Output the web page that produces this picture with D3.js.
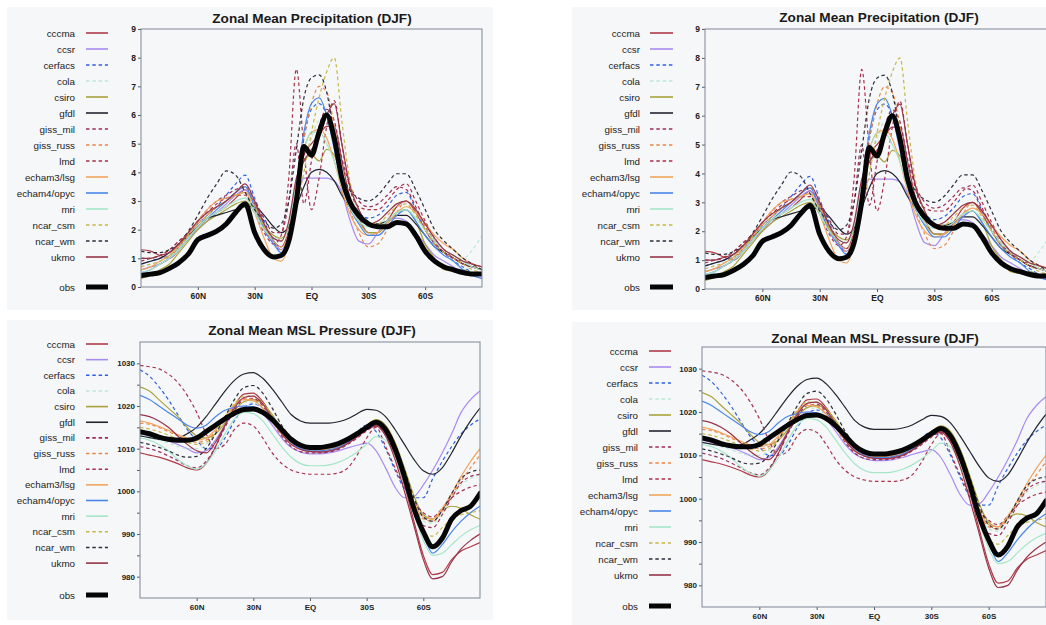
<!DOCTYPE html>
<html>
<head>
<meta charset="utf-8">
<script src="https://cdn.jsdelivr.net/npm/d3@7"></script>
<style>
  body { margin: 0; background: #ffffff; }
  svg { display: block; }
  text { font-family: "Liberation Sans", Arial, Helvetica, sans-serif; }
</style>
</head>
<body>
<svg id="chart" width="1046" height="625"></svg>
<script>
// ---- Series definitions ----
const modelNames  = ["cccma","ccsr","cerfacs","cola","csiro","gfdl","giss_mil","giss_russ","lmd",
                     "echam3/lsg","echam4/opyc","mri","ncar_csm","ncar_wm","ukmo"];
const modelColors = ["#b03a48","#a98bf0","#2f62e0","#bde8d6","#a9a23c","#22252f","#9a2f5a","#e8884a","#a8324c",
                     "#f2a45c","#4a86ea","#a5e6c8","#c9b64a","#2d2f3a","#983448"];
const modelDashed = [false,false,true,true,false,false,true,true,true,false,false,false,true,true,false];

// ---- Latitude grids (degrees, north positive) ----
const precipLat = [90,85,80,75,70,65,60,55,50,45,40,35,30,25,20,16,12,8,4,0,
                   -4,-8,-12,-16,-20,-25,-30,-35,-40,-45,-50,-55,-60,-65,-70,-75,-80,-85,-90];
const pressureLat = [90,85,80,75,70,65,60,55,50,45,40,35,30,25,20,15,10,5,0,
                     -5,-10,-15,-20,-25,-30,-35,-40,-45,-50,-55,-60,-65,-70,-75,-80,-85,-90];

// ---- Zonal mean precipitation, DJF (mm/day) ----
const prCccma   = [1.3,1.25,1.1,1.0,1.3,1.7,2.1,2.4,2.6,2.8,3.1,3.4,2.9,2.2,1.6,1.4,2.0,3.4,4.6,5.0,5.3,5.6,5.6,4.4,3.2,2.4,1.9,1.9,2.3,2.8,3.0,2.6,2.0,1.5,1.2,1.0,0.8,0.7,0.6];
const prCcsr    = [0.6,0.7,0.8,1.0,1.3,1.7,2.0,2.3,2.6,2.9,3.2,3.4,2.8,2.1,1.6,1.3,1.8,3.0,3.8,3.8,3.8,3.8,3.7,3.3,2.4,1.6,1.5,1.9,2.3,2.4,2.3,1.9,1.5,1.1,0.9,0.7,0.5,0.4,0.3];
const prCerfacs = [0.8,0.9,1.0,1.1,1.4,1.8,2.2,2.5,2.8,3.2,3.6,3.9,3.1,2.3,1.6,1.2,1.7,3.5,5.2,6.2,6.4,6.0,5.0,3.8,3.1,2.6,2.4,2.5,2.8,3.2,3.3,2.7,2.0,1.5,1.2,0.9,0.7,0.5,0.4];
const prCola    = [0.7,0.8,0.9,1.1,1.4,1.8,2.1,2.4,2.6,2.8,3.0,3.1,2.7,2.2,1.8,1.6,2.0,3.2,4.4,5.2,5.8,5.8,5.0,3.9,3.1,2.5,2.2,2.2,2.4,2.6,2.7,2.4,2.0,1.6,1.3,1.1,1.0,1.3,1.8];
const prCsiro   = [0.3,0.4,0.6,0.8,1.2,1.6,2.0,2.3,2.5,2.7,2.9,3.0,2.6,2.1,1.8,1.7,2.1,3.3,4.4,4.6,4.4,4.8,4.6,3.8,3.0,2.3,1.9,1.9,2.2,2.6,2.7,2.3,1.5,1.0,0.6,0.55,0.6,0.5,0.5];
const prGfdl    = [0.8,0.9,1.0,1.2,1.5,1.8,2.1,2.4,2.5,2.6,2.7,2.8,2.8,2.5,2.1,1.9,2.1,2.8,3.5,4.0,4.1,4.0,3.7,3.2,2.8,2.4,2.2,2.2,2.3,2.5,2.5,2.2,1.8,1.4,1.2,1.0,0.8,0.7,0.6];
const prGissMil = [1.0,1.0,1.1,1.3,1.6,1.9,2.3,2.7,3.0,3.2,3.4,3.5,3.0,2.4,1.9,1.9,3.0,5.0,2.9,4.4,5.6,6.2,5.8,4.5,3.6,3.0,2.8,2.9,3.2,3.5,3.4,2.8,2.1,1.6,1.2,1.0,0.8,0.7,0.6];
const prGissRus = [0.6,0.7,0.8,1.0,1.4,1.8,2.2,2.5,2.8,3.0,3.3,3.5,2.9,2.1,1.5,1.3,1.9,3.6,5.2,6.4,7.0,6.8,5.6,4.0,2.8,1.9,1.4,1.5,2.0,2.6,3.0,2.7,2.1,1.6,1.3,1.1,0.9,0.7,0.6];
const prLmd     = [0.9,1.0,1.1,1.3,1.6,1.9,2.3,2.6,2.9,3.1,3.2,3.2,2.6,1.9,1.5,1.8,3.8,7.6,4.8,2.7,3.8,5.6,6.5,5.0,3.5,2.8,2.7,2.7,3.0,3.4,3.6,3.0,2.3,1.7,1.3,1.0,0.9,0.8,0.7];
const prEcham3  = [0.6,0.7,0.9,1.1,1.5,1.9,2.3,2.7,3.0,3.1,3.2,3.3,2.6,1.7,1.0,0.9,1.6,3.4,4.8,5.4,5.5,5.2,4.4,3.4,2.6,2.0,1.8,1.9,2.2,2.6,2.8,2.6,2.2,1.8,1.5,1.3,1.0,0.8,0.7];
const prEcham4  = [0.5,0.6,0.8,1.0,1.3,1.7,2.1,2.4,2.7,3.0,3.3,3.5,2.8,2.0,1.5,1.2,1.8,3.6,5.4,6.4,6.6,6.0,4.8,3.6,2.8,2.2,1.8,1.8,2.1,2.5,2.7,2.3,1.8,1.4,1.1,0.9,0.6,0.4,0.3];
const prMri     = [0.5,0.6,0.8,1.0,1.3,1.7,2.1,2.4,2.6,2.8,3.0,3.1,2.6,2.0,1.7,1.6,2.2,3.6,4.8,5.4,5.4,5.0,4.4,3.5,2.8,2.3,2.1,2.1,2.3,2.6,2.7,2.4,2.0,1.6,1.3,1.1,0.9,0.7,0.6];
const prNcarCsm = [0.7,0.8,0.9,1.1,1.4,1.8,2.2,2.5,2.8,3.0,3.2,3.3,2.8,2.1,1.6,1.4,1.8,2.8,4.0,5.4,6.6,7.5,8.0,5.8,3.8,2.6,2.2,2.2,2.5,2.8,2.9,2.5,2.0,1.5,1.2,1.0,0.8,0.6,0.5];
const prNcarWm  = [1.25,1.2,1.2,1.3,1.5,1.95,2.5,3.1,3.6,4.05,3.9,3.3,2.7,2.3,2.05,2.2,3.0,4.8,6.6,7.3,7.4,6.8,5.3,4.0,3.4,3.1,3.0,3.2,3.6,3.95,3.95,3.4,2.7,2.0,1.6,1.3,1.0,0.8,0.6];
const prUkmo    = [1.0,1.0,1.1,1.2,1.5,1.9,2.3,2.6,2.8,3.0,3.3,3.6,3.0,2.2,1.7,1.6,2.3,3.8,4.4,4.8,5.2,6.0,6.4,5.0,3.6,2.7,2.2,2.3,2.6,2.9,3.0,2.7,2.2,1.7,1.3,1.1,0.9,0.8,0.7];
const prObs     = [0.4,0.45,0.5,0.65,0.85,1.15,1.65,1.8,1.95,2.2,2.6,2.9,1.9,1.3,1.05,1.1,1.6,3.0,4.9,4.6,5.4,6.0,5.2,3.8,3.0,2.5,2.2,2.1,2.1,2.25,2.2,1.8,1.25,0.9,0.7,0.6,0.5,0.45,0.45];

// ---- Zonal mean MSL pressure, DJF (hPa) ----
const psCccma   = [1009,1008.5,1008,1007.3,1006.5,1005.5,1005,1006.5,1010.5,1015.5,1020,1022.8,1023,1021,1017.5,1014,1011.5,1010,1009.5,1009.3,1009.5,1010.2,1011.3,1012.8,1014.5,1015.5,1013.5,1008.5,1001.5,993,985,980.5,981,984,986,987,988];
const psCcsr    = [1013.5,1013,1012.5,1011.8,1011,1010,1009,1009.5,1012,1015.5,1018.5,1020,1019.8,1018.3,1015.5,1012.5,1010.3,1009.2,1008.8,1008.8,1009,1009.5,1010.2,1010.8,1011.3,1009.5,1005.5,1001,998.5,998.8,1001.5,1005,1009,1013.5,1018.5,1021.5,1023.5];
const psCerfacs = [1028.5,1027,1024.5,1021.5,1018,1014.5,1012,1010,1010,1012.5,1016.5,1019.5,1020.5,1019.5,1017.5,1014.5,1012,1010.5,1010,1010,1010.3,1011,1012.3,1014,1015.5,1014,1010,1005,1000.5,998.5,998.5,1003,1007,1010.5,1013.5,1015.5,1017];
const psCola    = [1013,1012.6,1012,1011.3,1010.5,1010,1010,1011,1013.5,1016.5,1019.5,1021,1020.8,1019.3,1016.5,1013.5,1011.2,1010,1009.7,1009.7,1010,1010.6,1011.7,1013.2,1014.8,1016,1014.5,1010,1004,997.5,993,992.5,995,998.5,1001.5,1003,1004];
const psCsiro   = [1024.5,1023.5,1021.5,1019.5,1017.5,1015,1013,1012.5,1013.5,1016,1019,1021,1021.5,1020.5,1018,1014.5,1011.8,1010.5,1010,1010,1010.3,1011,1012.2,1013.7,1015.5,1016.8,1015.5,1011.5,1005.5,999,994.5,993.5,995.5,996.5,996,994.5,993.5];
const psGfdl    = [1013,1012.6,1012.2,1012,1012.4,1013.5,1015,1017.5,1020.5,1023.5,1026,1027.5,1027.8,1026.5,1024,1021,1018,1016.5,1016,1016,1016,1016.3,1017,1018.2,1019.2,1019,1017.5,1014.5,1011,1007.5,1004.8,1004,1005.5,1009,1013,1016.5,1019.5];
const psGissMil = [1010.5,1010,1009.3,1008.3,1007.2,1006,1005.5,1007,1010.5,1015,1019,1021.5,1021.8,1020,1016.5,1013,1010.5,1009.3,1009,1009,1009.2,1009.8,1011,1012.5,1014.2,1015.3,1013.5,1008.5,1002,996,992,991.5,994.5,998.5,1002,1003.5,1004];
const psGissRus = [1016,1015.7,1015,1014,1013,1012,1011.5,1012,1014,1017,1020,1021.8,1021.5,1019.5,1016.3,1013.3,1011,1009.8,1009.5,1009.5,1009.8,1010.4,1011.5,1013,1014.7,1016,1014.3,1009.5,1003,997,993.5,993,995.5,999,1002.5,1005.5,1008.5];
const psLmd     = [1029.5,1029.2,1028.7,1027.5,1025.5,1022.5,1018.5,1013.5,1010,1011,1014.5,1016,1015.3,1012.5,1009,1006.5,1005,1004.3,1004,1004,1004,1004.3,1005.5,1008.5,1012.5,1015,1010.5,1005.5,1001,997.5,995,994,996,998.5,1000,1001,1001.5];
const psEcham3  = [1016.5,1016,1015.2,1014.3,1013.3,1012.5,1012,1012.5,1014.5,1017.5,1020.3,1021.5,1021.2,1019.5,1016.5,1013.5,1011.3,1010,1009.7,1009.7,1010,1010.6,1011.8,1013.3,1015,1016.5,1015,1010.5,1004,997.5,994,993.5,996,999.5,1003.5,1007,1010];
const psEcham4  = [1022.5,1021.5,1020,1018.5,1017,1015.5,1014.8,1015.5,1017.5,1019,1019.7,1020,1019.8,1018.5,1016.5,1014,1011.5,1010,1009.5,1009.5,1009.7,1010.3,1011.5,1013,1015,1016.5,1015,1011,1004.5,996.5,990,985.5,987.5,990.5,993,995,996.5];
const psMri     = [1012.5,1012,1011,1009.5,1007.5,1006,1005.2,1006.5,1009.5,1013.5,1017,1018.5,1018.2,1016.5,1013.5,1010.5,1008,1006.5,1006,1006,1006.2,1006.8,1007.8,1009.2,1011,1012.8,1012,1008,1002,995,988.5,985,985.5,987.5,989.5,991,992];
const psNcarCsm = [1015,1014.6,1014,1013.2,1012.3,1011.5,1011,1011.5,1013.5,1017,1020.5,1022.3,1022.3,1020.8,1017.8,1014.5,1012,1010.7,1010.3,1010.3,1010.5,1011.2,1012.4,1013.9,1015.5,1016.5,1014.5,1009.5,1002.5,995.5,990.5,989.5,991.5,993.5,994.5,995,995.5];
const psNcarWm  = [1011.5,1011,1010.3,1009.5,1008.5,1008,1008.2,1010,1013.5,1017.5,1021.5,1024.3,1024.8,1023,1019.5,1015.5,1012.5,1011,1010.5,1010.5,1010.7,1011.3,1012.3,1013.7,1015.3,1016.3,1015,1011,1005,998.5,994,993,995.5,999.5,1003,1004.5,1005];
const psUkmo    = [1018,1017.5,1016.5,1015,1013,1011,1009.5,1009,1011.5,1015.5,1019.5,1022,1022.3,1020.5,1017,1013.5,1011,1009.8,1009.3,1009.2,1009.4,1010,1011.2,1012.8,1014.5,1015.3,1013,1007.5,1000,992,984,979.5,980,983.5,986.5,988.5,990];
const psObs     = [1014,1013.5,1012.7,1012.2,1012,1012,1012.5,1014,1015.5,1017,1018.3,1019.2,1019.3,1018.5,1016.8,1014.5,1012.2,1010.8,1010.3,1010.3,1010.6,1011.2,1012.2,1013.5,1015,1016.2,1014.5,1010,1003.5,996,990.5,987,989,993.5,995.5,996.5,999.5];

// ---- Axis ticks ----
const latTicks = [60, 30, 0, -30, -60];
const latTickLabels = ["60N", "30N", "EQ", "30S", "60S"];
const precipTicks = [0,1,2,3,4,5,6,7,8,9];
const pressureTicks = [980,985,990,995,1000,1005,1010,1015,1020,1025,1030];
const pressureLabelled = [980,990,1000,1010,1020,1030];

const precipModels = [prCccma,prCcsr,prCerfacs,prCola,prCsiro,prGfdl,prGissMil,prGissRus,prLmd,
                      prEcham3,prEcham4,prMri,prNcarCsm,prNcarWm,prUkmo];
const pressureModels = [psCccma,psCcsr,psCerfacs,psCola,psCsiro,psGfdl,psGissMil,psGissRus,psLmd,
                        psEcham3,psEcham4,psMri,psNcarCsm,psNcarWm,psUkmo];

// ---- Panel layout ----
const panels = [
  { id: "p1", bg: [7, 7, 486, 303], frame: [141, 482, 29, 287], kind: "pr",
    title: "Zonal Mean Precipitation (DJF)", tx: 312, ty: 22.5,
    leg: { lx: 75, x0: 86, x1: 108, y0: 33, dy: 16, obsY: 287 } },
  { id: "p2", bg: [7, 320, 486, 300], frame: [140, 480, 342, 598], kind: "ps",
    title: "Zonal Mean MSL Pressure (DJF)", tx: 312, ty: 334.5,
    leg: { lx: 75, x0: 86, x1: 108, y0: 344, dy: 15.65, obsY: 595 } },
  { id: "p3", bg: [572, 7, 474, 303], frame: [705, 1049, 29, 289], kind: "pr",
    title: "Zonal Mean Precipitation (DJF)", tx: 879, ty: 21.5,
    leg: { lx: 640, x0: 650, x1: 673, y0: 33, dy: 16, obsY: 287 } },
  { id: "p4", bg: [572, 322, 474, 303], frame: [702, 1046, 347, 607], kind: "ps",
    title: "Zonal Mean MSL Pressure (DJF)", tx: 875, ty: 342.5,
    leg: { lx: 638, x0: 649, x1: 671, y0: 351, dy: 16, obsY: 606 } }
];

const svg = d3.select("#chart");
const defs = svg.append("defs");

panels.forEach(p => {
  const [fx0, fx1, fy0, fy1] = p.frame;
  const isPr = p.kind === "pr";
  const g = svg.append("g");

  g.append("rect")
    .attr("x", p.bg[0]).attr("y", p.bg[1])
    .attr("width", p.bg[2]).attr("height", p.bg[3])
    .attr("fill", "#f6f7f9");

  const x = d3.scaleLinear().domain([90, -90]).range([fx0, fx1]);
  const y = isPr
    ? d3.scaleLinear().domain([0, 9]).range([fy1, fy0])
    : d3.scaleLinear().domain([975, 1035]).range([fy1, fy0]);
  const lats = isPr ? precipLat : pressureLat;
  const models = isPr ? precipModels : pressureModels;
  const obs = isPr ? prObs : psObs;

  defs.append("clipPath").attr("id", "clip-" + p.id)
    .append("rect").attr("x", fx0).attr("y", fy0)
    .attr("width", fx1 - fx0).attr("height", fy1 - fy0);

  // title
  g.append("text")
    .attr("x", p.tx).attr("y", p.ty)
    .attr("text-anchor", "middle")
    .attr("font-size", 13.6).attr("font-weight", "bold")
    .attr("fill", "#1a1a1a")
    .text(p.title);

  // axes
  const yAxis = d3.axisLeft(y)
    .tickValues(isPr ? precipTicks : pressureTicks)
    .tickSize(3).tickPadding(2)
    .tickFormat(d => isPr ? d : (pressureLabelled.includes(d) ? d : ""));
  const ya = g.append("g").attr("transform", `translate(${fx0},0)`).call(yAxis);

  const xAxis = d3.axisBottom(x)
    .tickValues(latTicks).tickSize(3).tickPadding(3)
    .tickFormat((d, i) => latTickLabels[i]);
  const xa = g.append("g").attr("transform", `translate(0,${fy1})`).call(xAxis);

  [ya, xa].forEach(a => {
    a.select(".domain").remove();
    a.selectAll("line").attr("stroke", "#555b66");
    a.selectAll("text").attr("font-size", isPr ? 8.5 : 8).attr("font-weight", "bold")
      .attr("fill", "#222").attr("font-family", "'Liberation Sans', Arial, sans-serif");
  });

  // lines
  const line = d3.line()
    .x((d, i) => x(lats[i]))
    .y(d => y(d))
    .curve(d3.curveMonotoneX);

  const plot = g.append("g").attr("clip-path", `url(#clip-${p.id})`);
  models.forEach((vals, k) => {
    plot.append("path")
      .datum(vals)
      .attr("d", line)
      .attr("fill", "none")
      .attr("stroke", modelColors[k])
      .attr("stroke-width", 1.2)
      .attr("stroke-dasharray", modelDashed[k] ? "3.5,2.8" : null)
      .attr("stroke-linejoin", "round");
  });
  plot.append("path")
    .datum(obs)
    .attr("d", line)
    .attr("fill", "none")
    .attr("stroke", "#050505")
    .attr("stroke-width", 5)
    .attr("stroke-linejoin", "round")
    .attr("stroke-linecap", "round");

  // frame
  g.append("rect")
    .attr("x", fx0).attr("y", fy0)
    .attr("width", fx1 - fx0).attr("height", fy1 - fy0)
    .attr("fill", "none").attr("stroke", "#7d8696").attr("stroke-width", 1);

  // legend
  const L = p.leg;
  modelNames.forEach((name, k) => {
    const yy = L.y0 + k * L.dy;
    g.append("text")
      .attr("x", L.lx).attr("y", yy + 3.5)
      .attr("text-anchor", "end")
      .attr("font-size", 9.8).attr("fill", "#222")
      .text(name);
    g.append("line")
      .attr("x1", L.x0).attr("x2", L.x1).attr("y1", yy).attr("y2", yy)
      .attr("stroke", modelColors[k]).attr("stroke-width", 1.6)
      .attr("stroke-dasharray", modelDashed[k] ? "3.5,2.8" : null);
  });
  g.append("text")
    .attr("x", L.lx).attr("y", L.obsY + 3.5)
    .attr("text-anchor", "end")
    .attr("font-size", 9.8).attr("fill", "#222")
    .text("obs");
  g.append("line")
    .attr("x1", L.x0).attr("x2", L.x1).attr("y1", L.obsY).attr("y2", L.obsY)
    .attr("stroke", "#050505").attr("stroke-width", 5);
});
</script>
</body>
</html>
